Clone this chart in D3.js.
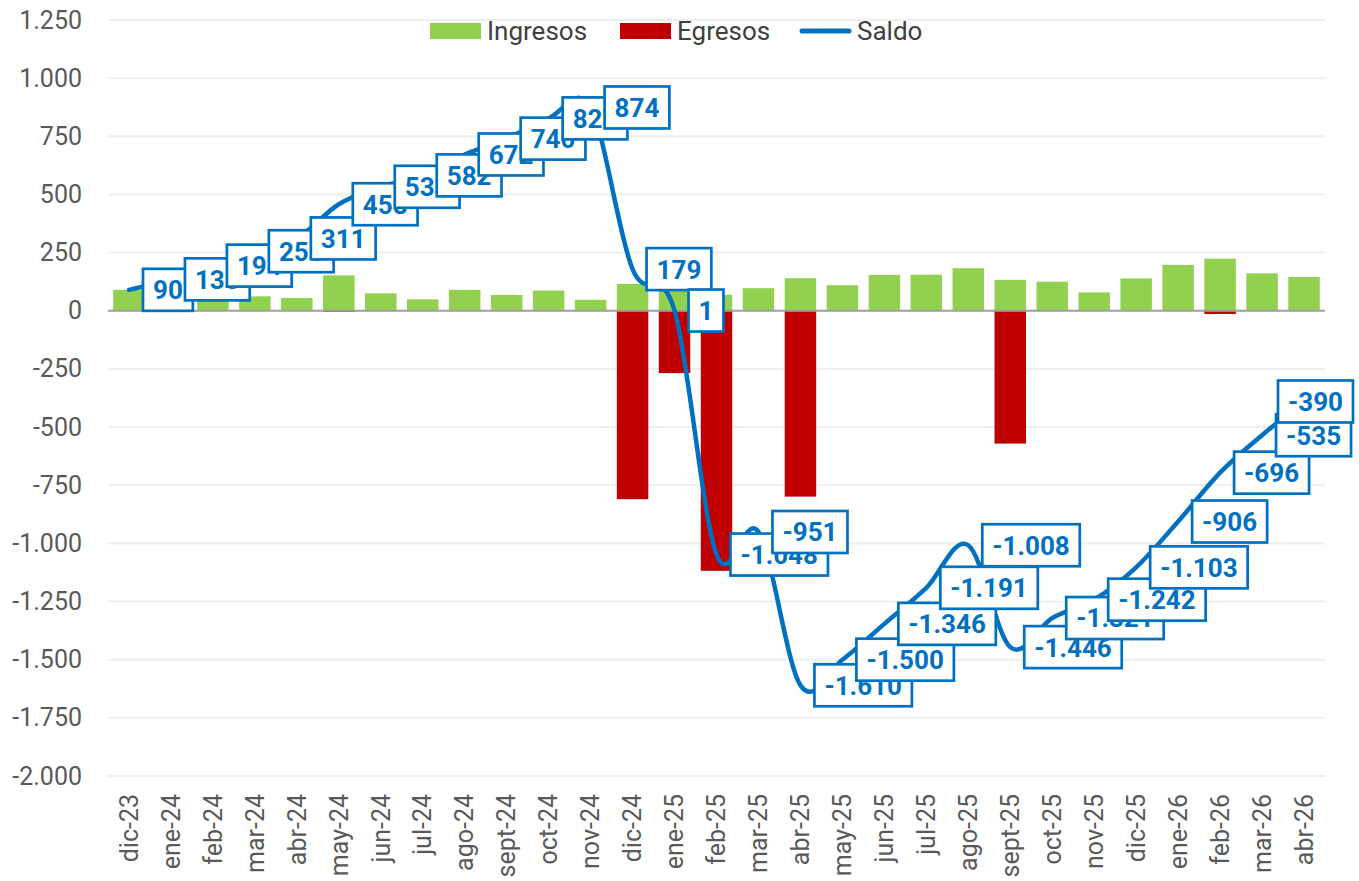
<!DOCTYPE html>
<html>
<head>
<meta charset="utf-8">
<script src="https://cdn.jsdelivr.net/npm/d3@7"></script>
<style>
  body { margin: 0; background: #fff; }
  text { font-family: Roboto, "Noto Sans", sans-serif; }
</style>
</head>
<body>
<script>
const months = ['dic-23','ene-24','feb-24','mar-24','abr-24','may-24','jun-24','jul-24','ago-24','sept-24','oct-24','nov-24',
  'dic-24','ene-25','feb-25','mar-25','abr-25','may-25','jun-25','jul-25','ago-25','sept-25','oct-25','nov-25',
  'dic-25','ene-26','feb-26','mar-26','abr-26'];
const ingresos = [90, 45, 59, 62, 55, 152, 75, 49, 90, 68, 87, 47,
  115, 90, 69, 97, 140, 110, 154, 155, 183, 133, 125, 79,
  139, 197, 224, 161, 145];
const egresos = [0, 0, 0, 0, 0, -5, 0, 0, 0, 0, 0, 0,
  -810, -268, -1118, 0, -799, 0, 0, 0, 0, -571, 0, 0,
  0, 0, -14, 0, 0];
const saldo = [90, 135, 194, 256, 311, 458, 533, 582, 672, 740, 827, 874,
  179, 1, -1048, -951, -1610, -1500, -1346, -1191, -1008, -1446, -1321, -1242,
  -1103, -906, -696, -535, -390];
const yTicks = [-2000, -1750, -1500, -1250, -1000, -750, -500, -250, 0, 250, 500, 750, 1000, 1250];

const W = 1359, H = 881;
const plotLeft = 108, plotRight = 1325, plotTop = 20, plotBottom = 776;
const labelLimit = 1353;

const locale = d3.formatLocale({ decimal: ',', thousands: '.', grouping: [3], currency: ['', ''], minus: '-' });
const fmt = locale.format(',d');

const x = d3.scaleBand().domain(months).range([plotLeft, plotRight]).paddingInner(0.25).paddingOuter(0.125);
const y = d3.scaleLinear().domain([-2000, 1250]).range([plotBottom, plotTop]);

const svg = d3.select('body').append('svg')
  .attr('width', W)
  .attr('height', H);

// grid
svg.append('g').selectAll('line')
  .data(yTicks)
  .enter()
  .append('line')
  .attr('x1', plotLeft).attr('x2', plotRight)
  .attr('y1', d => y(d)).attr('y2', d => y(d))
  .attr('stroke', '#eeeeee')
  .attr('stroke-width', 2);

// y axis labels
const yAxis = d3.axisLeft(y).tickValues(yTicks).tickFormat(fmt).tickSize(0).tickPadding(0);
const gy = svg.append('g').attr('transform', 'translate(82,0)').call(yAxis);
gy.select('.domain').remove();
gy.selectAll('text')
  .attr('font-family', 'Roboto')
  .style('font-size', '25px')
  .attr('fill', '#595959');

// x axis labels
const xAxis = d3.axisBottom(x).tickSize(0).tickPadding(0);
const gx = svg.append('g').attr('transform', 'translate(0,' + plotBottom + ')').call(xAxis);
gx.select('.domain').remove();
gx.selectAll('text')
  .attr('font-family', 'Roboto')
  .style('font-size', '25px')
  .attr('fill', '#595959')
  .attr('text-anchor', 'end')
  .attr('transform', 'translate(0,18) rotate(-90)')
  .attr('dx', 0)
  .attr('dy', '0.35em')
  .attr('y', 0);

// bars
svg.append('g').selectAll('rect')
  .data(months)
  .enter()
  .append('rect')
  .attr('x', d => x(d))
  .attr('width', x.bandwidth())
  .attr('y', (d, i) => y(ingresos[i]))
  .attr('height', (d, i) => y(0) - y(ingresos[i]))
  .attr('fill', '#92d050');

svg.append('g').selectAll('rect')
  .data(months)
  .enter()
  .append('rect')
  .attr('x', d => x(d))
  .attr('width', x.bandwidth())
  .attr('y', y(0))
  .attr('height', (d, i) => y(egresos[i]) - y(0))
  .attr('fill', '#c00000');

// zero line
svg.append('line')
  .attr('x1', plotLeft).attr('x2', plotRight)
  .attr('y1', y(0)).attr('y2', y(0))
  .attr('stroke', '#a0a0a0')
  .attr('stroke-width', 2);

// saldo line
const cx = d => x(d) + x.bandwidth() / 2;
const line = d3.line()
  .x(d => cx(d))
  .y((d, i) => y(saldo[i]))
  .curve(d3.curveCardinal.tension(0));

svg.append('path')
  .datum(months)
  .attr('d', line)
  .attr('fill', 'none')
  .attr('stroke', '#0070c0')
  .attr('stroke-width', 4.5)
  .attr('stroke-linecap', 'round');

// data labels (placed to the right, kept inside the chart)
const labels = svg.append('g');
months.forEach(function(m, i) {
  const g = labels.append('g');
  const box = g.append('rect')
    .attr('fill', '#fff')
    .attr('stroke', '#0070c0')
    .attr('stroke-width', 2.7);
  const t = g.append('text')
    .attr('x', 10)
    .attr('dy', '0.36em')
    .style('font-size', '26px')
    .attr('font-weight', 'bold')
    .attr('fill', '#0070c0')
    .text(fmt(saldo[i]));
  const w = t.node().getComputedTextLength() + 20;
  box.attr('x', 0).attr('y', -21).attr('width', w).attr('height', 42);
  const lx = Math.min(cx(m) + 14, labelLimit - w);
  g.attr('transform', 'translate(' + lx + ',' + y(saldo[i]) + ')');
});

// legend
const legend = svg.append('g').attr('transform', 'translate(0,31)');
const items = [
  { name: 'Ingresos', color: '#92d050', type: 'rect', x: 430 },
  { name: 'Egresos', color: '#c00000', type: 'rect', x: 620 },
  { name: 'Saldo', color: '#0070c0', type: 'line', x: 800 }
];
items.forEach(function(it) {
  if (it.type === 'rect') {
    legend.append('rect')
      .attr('x', it.x).attr('y', -8)
      .attr('width', 51).attr('height', 16)
      .attr('fill', it.color);
  } else {
    legend.append('line')
      .attr('x1', it.x + 2).attr('x2', it.x + 49)
      .attr('y1', 0).attr('y2', 0)
      .attr('stroke', it.color)
      .attr('stroke-width', 5)
      .attr('stroke-linecap', 'round');
  }
  legend.append('text')
    .attr('x', it.x + 57)
    .attr('dy', '0.35em')
    .style('font-size', '26px')
    .attr('fill', '#404040')
    .text(it.name);
});
</script>
</body>
</html>
